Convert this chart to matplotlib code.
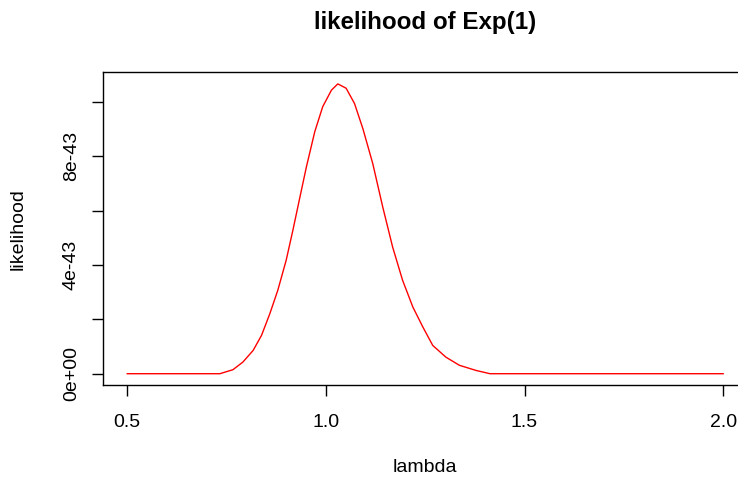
import matplotlib
matplotlib.use("Agg")
import matplotlib.pyplot as plt
from matplotlib.ticker import FixedLocator, FixedFormatter

# values (likelihood in units of 1e-43)
lam = [0.5, 0.733, 0.766, 0.791, 0.817, 0.838, 0.859, 0.879, 0.900, 0.917, 0.934,
       0.951, 0.972, 0.992, 1.014, 1.030, 1.051, 1.072, 1.093, 1.118, 1.143,
       1.168, 1.193, 1.219, 1.244, 1.269, 1.302, 1.336, 1.378, 1.413, 2.0]
lik_e43 = [0.0, 0.0, 0.147, 0.427, 0.858, 1.41, 2.21, 3.07, 4.17, 5.28, 6.45,
           7.61, 8.90, 9.82, 10.43, 10.66, 10.50, 9.94, 9.02, 7.73, 6.14,
           4.66, 3.44, 2.45, 1.72, 1.04, 0.61, 0.31, 0.12, 0.0, 0.0]
lik = [v * 1e-43 for v in lik_e43]

xticks = [0.5, 1.0, 1.5, 2.0]
xtick_labels = ["0.5", "1.0", "1.5", "2.0"]
yticks = [0, 2e-43, 4e-43, 6e-43, 8e-43, 10e-43]
ytick_labels = ["0e+00", "", "4e-43", "", "8e-43", ""]

plt.rcParams['font.family'] = ['Liberation Sans', 'DejaVu Sans']

fig = plt.figure(figsize=(7.38, 4.79), dpi=100)
ax = fig.add_axes([103.4 / 738, (479 - 385.3) / 479, (747 - 103.4) / 738, (385.3 - 72.3) / 479])
ax.plot(lam, lik, color='#ff0000', lw=1.0)

xr = max(lam) - min(lam)
ax.set_xlim(min(lam) - 0.04 * xr, max(lam) + 0.04 * xr)
yr = max(lik) - min(lik)
ax.set_ylim(min(lik) - 0.04 * yr, max(lik) + 0.04 * yr)

ax.xaxis.set_major_locator(FixedLocator(xticks))
ax.xaxis.set_major_formatter(FixedFormatter(xtick_labels))
ax.yaxis.set_major_locator(FixedLocator(yticks))
ax.yaxis.set_major_formatter(FixedFormatter(ytick_labels))
for lab in ax.get_yticklabels():
    lab.set_rotation(90)
    lab.set_va('center')
ax.tick_params(direction='out', length=8, width=1.0, labelsize=14, color='black')
ax.tick_params(axis='x', pad=13)
ax.tick_params(axis='y', pad=9)
for s in ax.spines.values():
    s.set_linewidth(1.0)
    s.set_color('black')

fig.text(425 / 738, 1 - 468 / 479, "lambda", ha='center', va='center', fontsize=14)
fig.text(18 / 738, 1 - 229 / 479, "likelihood", ha='center', va='center', fontsize=14,
         rotation=90)
fig.text(425 / 738, 1 - 23 / 479, "likelihood of Exp(1)", ha='center', va='center',
         fontsize=17.4, fontweight='bold')

fig.savefig("out.png", dpi=100)
